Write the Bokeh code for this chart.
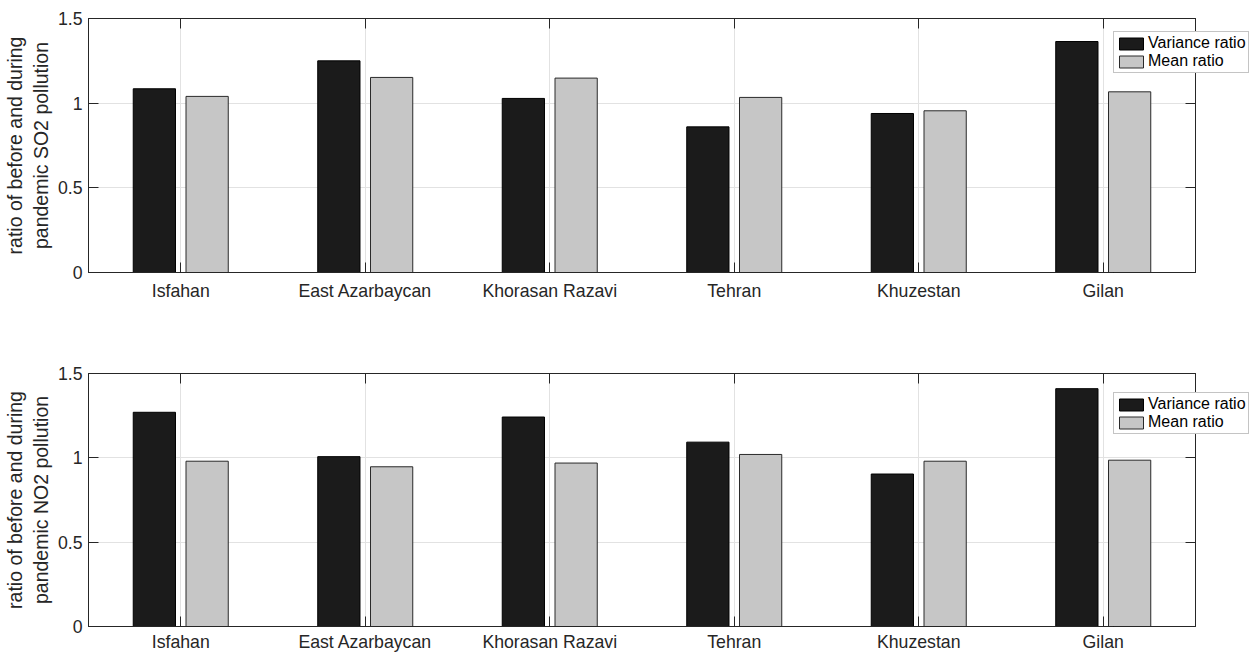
from bokeh.plotting import figure
from bokeh.models import (FactorRange, Range1d, FixedTicker, NumeralTickFormatter,
                          LinearAxis, CategoricalAxis, Legend, LegendItem, ColumnDataSource)
from bokeh.transform import dodge
from bokeh.layouts import column, row
from bokeh.embed import file_html
from bokeh.resources import INLINE

regions = ["Isfahan", "East Azarbaycan", "Khorasan Razavi", "Tehran", "Khuzestan", "Gilan"]
so2_variance_ratio = [1.085, 1.250, 1.028, 0.860, 0.939, 1.364]
so2_mean_ratio = [1.040, 1.152, 1.148, 1.034, 0.955, 1.067]
no2_variance_ratio = [1.270, 1.007, 1.242, 1.093, 0.904, 1.410]
no2_mean_ratio = [0.980, 0.947, 0.969, 1.020, 0.980, 0.986]
y_ticks = [0, 0.5, 1, 1.5]
series_labels = ["Variance ratio", "Mean ratio"]

FONT = "Liberation Sans"
DARK = "#262626"
VAR_FILL, VAR_LINE = "#1b1b1b", "#000000"
MEAN_FILL, MEAN_LINE = "#c6c6c6", "#2a2a2a"
FIG_W = 1248
LEG_W = 137


def make_panel(variance, mean, ylabel, height, border_top, border_bottom, label_standoff):
    src = ColumnDataSource(dict(region=regions, variance=variance, mean=mean))
    p = figure(x_range=FactorRange(factors=regions, range_padding=0),
               y_range=Range1d(0, 1.5), width=FIG_W, height=height,
               output_backend="svg", toolbar_location=None,
               min_border_left=85, min_border_right=FIG_W - 1195,
               min_border_top=border_top, min_border_bottom=border_bottom)
    p.outline_line_color = DARK
    p.outline_line_width = 1
    p.background_fill_color = "white"

    p.vbar(x=dodge("region", -0.143, range=p.x_range), top="variance", width=0.229,
           source=src, fill_color=VAR_FILL, line_color=VAR_LINE, line_width=1)
    p.vbar(x=dodge("region", 0.143, range=p.x_range), top="mean", width=0.229,
           source=src, fill_color=MEAN_FILL, line_color=MEAN_LINE, line_width=1)

    xa = p.xaxis[0]
    xa.major_label_text_font = FONT
    xa.major_label_text_font_size = "17.7px"
    xa.major_label_text_color = DARK
    xa.major_tick_in = 10
    xa.major_tick_out = 0
    xa.major_label_standoff = label_standoff
    xa.axis_line_color = DARK
    xa.major_tick_line_color = DARK

    ya = p.yaxis[0]
    ya.ticker = FixedTicker(ticks=y_ticks)
    ya.formatter = NumeralTickFormatter(format="0.[0]")
    ya.major_label_text_font = FONT
    ya.major_label_text_font_size = "17.7px"
    ya.major_label_text_color = DARK
    ya.major_tick_in = 10
    ya.major_tick_out = 0
    ya.minor_tick_in = 0
    ya.minor_tick_out = 0
    ya.major_label_standoff = 6
    ya.axis_line_color = DARK
    ya.major_tick_line_color = DARK
    ya.axis_label = ylabel
    ya.axis_label_text_font = FONT
    ya.axis_label_text_font_size = "19.5px"
    ya.axis_label_text_font_style = "normal"
    ya.axis_label_text_color = DARK
    ya.axis_label_standoff = 3

    top_ax = CategoricalAxis(major_tick_in=10, major_tick_out=0, major_label_text_font_size="0px",
                             major_label_standoff=0, axis_line_color=DARK, major_tick_line_color=DARK)
    p.add_layout(top_ax, "above")
    right_ax = LinearAxis(ticker=FixedTicker(ticks=y_ticks), major_tick_in=10, major_tick_out=0,
                          minor_tick_in=0, minor_tick_out=0,
                          major_label_text_font_size="0px", major_label_standoff=0,
                          axis_line_color=DARK, major_tick_line_color=DARK)
    p.add_layout(right_ax, "right")

    p.xgrid.grid_line_color = "#e2e2e2"
    p.ygrid.ticker = FixedTicker(ticks=y_ticks)
    p.ygrid.grid_line_color = "#e2e2e2"
    return p


def make_legend(height, border_top, border_bottom, legend_y):
    # transparent overlay figure carrying the legend, overlapping the panel's right edge
    lf = figure(width=LEG_W, height=height, output_backend="svg", toolbar_location=None,
                x_range=Range1d(0, 1), y_range=Range1d(0, 1),
                min_border_left=0, min_border_right=0,
                min_border_top=border_top, min_border_bottom=border_bottom,
                x_axis_type=None, y_axis_type=None,
                margin=(0, 0, 0, 1113 - FIG_W))
    lf.outline_line_color = None
    lf.grid.visible = False
    lf.background_fill_color = None
    lf.border_fill_color = None
    # off-screen proxy glyphs that only supply the legend swatches
    proxy = ColumnDataSource(dict(x=[-5.0], top=[0.0]))
    r1 = lf.vbar(x="x", top="top", width=0.1, source=proxy,
                 fill_color=VAR_FILL, line_color=VAR_LINE)
    r2 = lf.vbar(x="x", top="top", width=0.1, source=proxy,
                 fill_color=MEAN_FILL, line_color=MEAN_LINE)
    legend = Legend(items=[LegendItem(label=series_labels[0], renderers=[r1]),
                           LegendItem(label=series_labels[1], renderers=[r2])],
                    location=(0, legend_y), orientation="vertical",
                    glyph_width=30, glyph_height=15, label_standoff=2,
                    padding=2, spacing=0, margin=0, label_height=18,
                    label_text_font=FONT, label_text_font_size="16px",
                    label_text_color="#000000",
                    border_line_color="#8a8a8a", border_line_width=1,
                    background_fill_color="white", background_fill_alpha=1)
    lf.add_layout(legend)
    return lf


H1, T1, B1 = 322, 18, 50
H2, T2, B2 = 332, 51, 27

p1 = make_panel(so2_variance_ratio, so2_mean_ratio,
                "ratio of before and during\npandemic SO2 pollution", H1, T1, B1, 8)
p2 = make_panel(no2_variance_ratio, no2_mean_ratio,
                "ratio of before and during\npandemic NO2 pollution", H2, T2, B2, 5)

layout = column(row(p1, make_legend(H1, T1, B1, 199), spacing=0),
                row(p2, make_legend(H2, T2, B2, 192), spacing=0), spacing=0)
open("out.html", "w").write(file_html(layout, INLINE))
